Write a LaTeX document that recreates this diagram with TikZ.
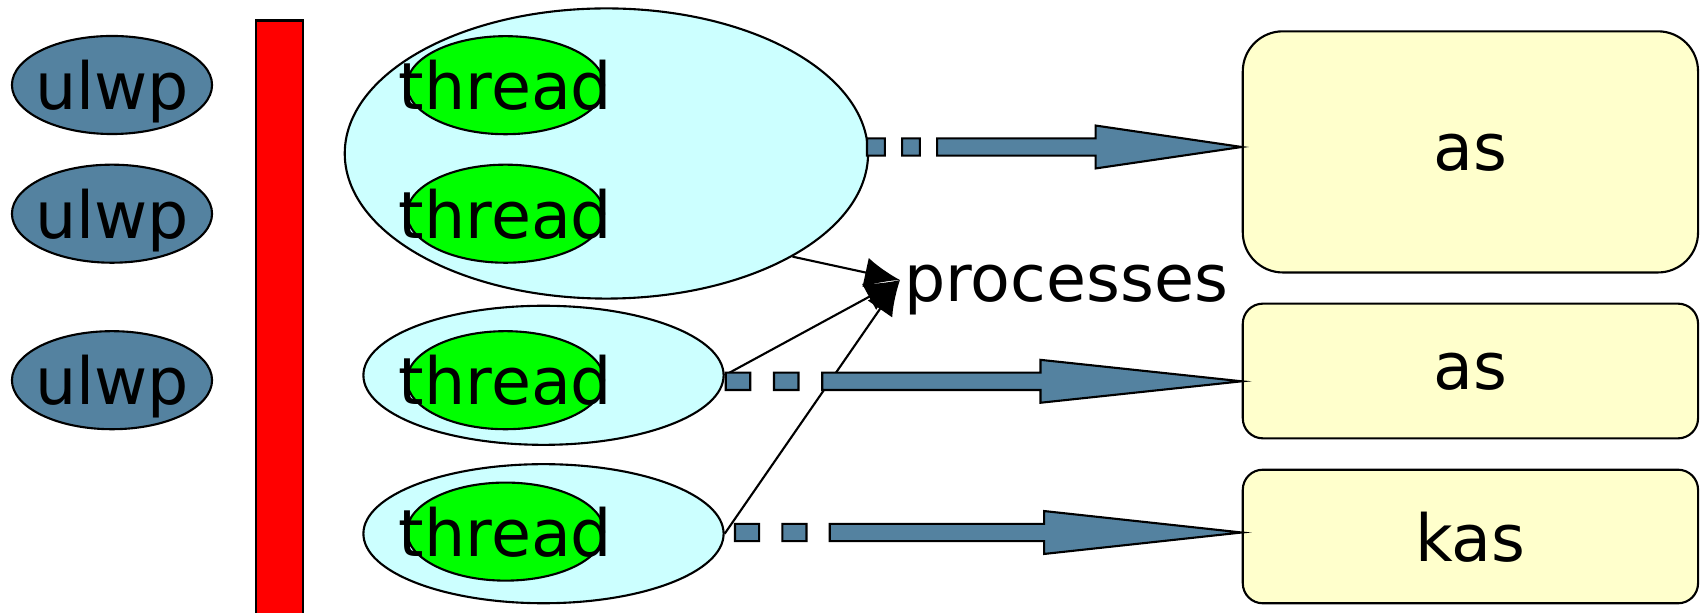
\documentclass[tikz,border=0pt]{standalone}
\usepackage{fontspec}
\setmainfont{DejaVu Sans}
\usetikzlibrary{shapes.geometric,arrows.meta,calc}
\definecolor{steel}{RGB}{84,130,160}
\definecolor{paleblue}{RGB}{204,255,255}
\definecolor{palelemon}{RGB}{255,255,204}

\tikzset{
  lwp/.style={ellipse, draw, fill=steel, minimum width=2cm, minimum height=0.98cm, inner sep=0pt},
  thr/.style={ellipse, draw, fill=green, minimum width=1.97cm, minimum height=0.98cm, inner sep=0pt},
  proc/.style={ellipse, draw, fill=paleblue, inner sep=0pt},
  space/.style={draw, fill=palelemon, minimum width=4.55cm, inner sep=0pt, text depth=0pt},
  blockarrow/.style={draw, fill=steel, line width=0.6pt, line join=miter},
  every label/.style={inner sep=0pt, text depth=0pt}
}

\newcommand\blockarrow[2]{%
  \draw[blockarrow] let \p1=(#1), \p2=(#2), \n1={\x2-\x1} in
    (\x1,\y1-2.47pt) rectangle (\x1+0.0475*\n1,\y1+2.47pt)
    (\x1+0.0935*\n1,\y1-2.47pt) rectangle (\x1+0.141*\n1,\y1+2.47pt)
    (\x1+0.187*\n1,\y1-2.47pt) -- (\x2-0.39*\n1,\y1-2.47pt) -- (\x2-0.39*\n1,\y1-6.1pt)
    -- (\x2,\y1) -- (\x2-0.39*\n1,\y1+6.1pt) -- (\x2-0.39*\n1,\y1+2.47pt)
    -- (\x1+0.187*\n1,\y1+2.47pt) -- cycle;}

\begin{document}
\begin{tikzpicture}[x=0.01cm, y=-0.01cm, line width=0.6pt, font=\fontsize{18.5}{21}\selectfont,
  >={Latex[length=10pt,width=8.5pt]}]
\useasboundingbox (0,0) rectangle (1701,613);

\node[lwp, label=center:ulwp] (u1) at (112,85) {};
\node[lwp, label=center:ulwp] (u2) at (112,213.7) {};
\node[lwp, label=center:ulwp] (u3) at (112,380.2) {};
\node[draw, fill=red, minimum width=0.467cm, minimum height=6cm, inner sep=0pt, anchor=north] (bar) at (279.3,19.5) {};

\node[proc, minimum width=5.23cm, minimum height=2.9cm] (p1) at (606.4,153.5) {};
\node[proc, minimum width=3.6cm, minimum height=1.39cm] (p2) at (543.5,375.3) {};
\node[proc, minimum width=3.6cm, minimum height=1.39cm] (p3) at (543.5,533.7) {};
\node[thr, label=center:thread] (t1) at (505.5,85.2) {};
\node[thr, label=center:thread] (t2) at (505.5,213.7) {};
\node[thr, label=center:thread] (t3) at (505.5,380.2) {};
\node[thr, label=center:thread] (t4) at (505.5,531.6) {};

\node[space, rounded corners=0.4cm, minimum height=2.41cm] (as1) at (1470.4,151.9) {as};
\node[space, rounded corners=0.2cm, minimum height=1.346cm] (as2) at (1470.4,371) {as};
\node[space, rounded corners=0.2cm, minimum height=1.335cm] (kas) at (1470.4,536.5) {kas};

\node[anchor=base west, inner sep=0pt] (procs) at (903,301.7) {processes};
\coordinate (pin) at (900,280);

\draw[->] (p1.-29) -- (pin);
\draw[->] (p2.east) -- (pin);
\draw[->] (p3.east) -- (pin);

\coordinate (a1) at (867,147);
\coordinate (a2) at (725.7,381.3);
\coordinate (a3) at (735,532.5);
\blockarrow{a1}{as1.west |- a1}
\blockarrow{a2}{as2.west |- a2}
\blockarrow{a3}{kas.west |- a3}
\end{tikzpicture}
\end{document}
